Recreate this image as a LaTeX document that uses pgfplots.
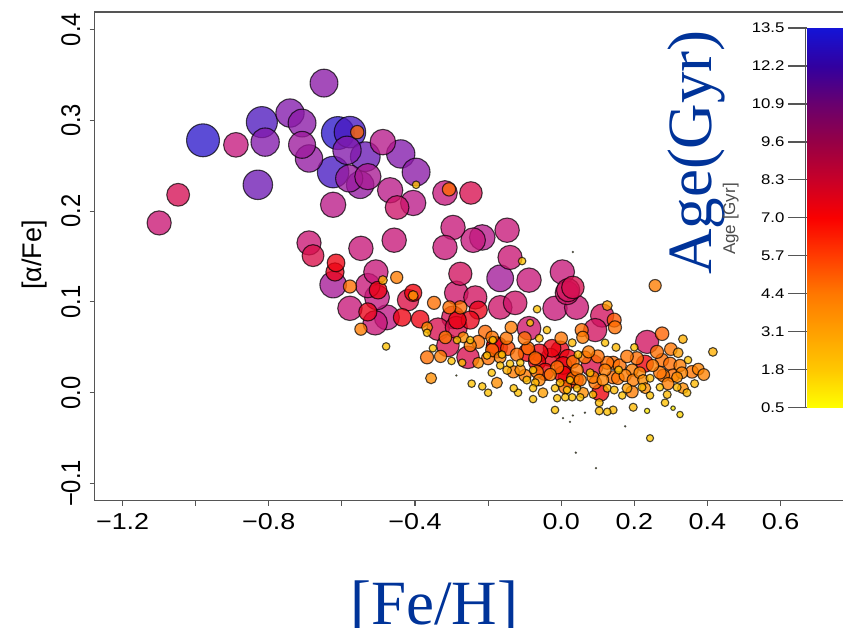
\documentclass[border=0pt]{standalone}
\usepackage{fontspec}
\setmainfont{Liberation Serif}
\newfontfamily\xtickfont{Liberation Sans}[FakeStretch=1.17]
\newfontfamily\ytickfont{Liberation Sans}[FakeStretch=0.88]
\newfontfamily\cbfont{Liberation Sans}[FakeStretch=1.2]
\newfontfamily\labfont{Liberation Sans}
\usepackage{pgfplots}
\pgfplotsset{compat=1.18}
\definecolor{slideblue}{RGB}{0,51,153}
\definecolor{axisgray}{RGB}{85,85,85}

% colour scale for the bubbles (positions are age x 10)
\pgfplotsset{colormap={bubblemap}{rgb255(5pt)=(255,255,0) rgb255(18pt)=(255,200,0) rgb255(31pt)=(255,155,0) rgb255(44pt)=(255,110,0) rgb255(54pt)=(255,50,0) rgb255(62pt)=(240,0,10) rgb255(72pt)=(225,10,50) rgb255(85pt)=(215,15,80) rgb255(95pt)=(195,25,130) rgb255(109pt)=(135,25,170) rgb255(122pt)=(80,25,190) rgb255(135pt)=(25,25,210)}}
% colour scale of the age bar
\pgfplotsset{colormap={barmap}{rgb255=(255,255,0) rgb255=(255,200,0) rgb255=(255,160,0) rgb255=(255,120,0) rgb255=(255,60,0) rgb255=(250,0,0) rgb255=(200,0,40) rgb255=(150,0,70) rgb255=(105,0,110) rgb255=(50,0,160) rgb255=(20,20,215)}}

% Stars: [Fe/H], [alpha/Fe], age in Gyr (age sets colour and bubble size)
\pgfplotstableread{
x y a
-0.980 0.278 13.0
-0.611 0.286 13.0
-0.578 0.287 12.4
-0.624 0.243 12.4
-0.819 0.298 12.2
-0.536 0.260 11.6
-0.830 0.229 11.5
-0.810 0.276 11.0
-0.742 0.308 11.0
-0.586 0.267 11.0
-0.439 0.263 11.0
-0.649 0.341 10.8
-0.709 0.297 10.8
-0.397 0.243 10.8
-0.690 0.258 10.6
-0.550 0.229 10.6
-0.580 0.236 10.5
-0.709 0.273 10.4
-0.167 0.126 10.3
-0.624 0.119 10.2
-0.529 0.238 10.1
-0.488 0.276 9.8
-0.216 0.171 9.8
-0.624 0.207 9.7
-0.468 0.223 9.7
-0.405 0.209 9.7
-0.477 0.083 9.6
-0.504 0.105 9.5
-0.241 0.168 9.4
-0.890 0.273 9.4
-0.318 0.220 9.4
-0.296 0.182 9.3
-0.318 0.160 9.3
-0.148 0.179 9.3
-0.548 0.159 9.3
-0.457 0.168 9.3
-0.529 0.118 9.3
-0.507 0.133 9.3
-0.578 0.093 9.3
-0.509 0.077 9.3
-0.088 0.124 9.3
0.003 0.133 9.3
-0.017 0.093 9.3
-1.100 0.187 9.2
-0.690 0.165 9.2
-0.140 0.149 9.2
0.042 0.094 9.2
-0.449 0.204 9.0
-0.287 0.110 9.0
-0.167 0.094 9.0
-0.126 0.099 9.0
-0.088 0.071 9.0
0.016 0.110 9.0
-0.276 0.131 8.8
0.019 0.113 8.8
-0.235 0.105 8.8
0.112 0.085 8.8
0.093 0.069 8.8
0.235 0.056 8.8
-1.048 0.218 8.6
-0.296 0.083 8.6
-0.247 0.220 8.5
-0.337 0.070 8.5
-0.310 0.052 8.5
-0.255 0.039 8.5
0.032 0.116 8.5
-0.287 0.072 8.3
0.085 0.030 8.3
-0.679 0.151 8.2
-0.419 0.102 8.0
-0.176 0.050 8.0
-0.227 0.091 6.6
-0.249 0.080 6.6
-0.003 0.047 6.6
-0.529 0.089 6.6
-0.619 0.133 6.6
-0.030 0.039 6.6
-0.616 0.143 6.4
-0.501 0.113 6.4
-0.435 0.083 6.4
-0.386 0.081 6.4
-0.284 0.080 6.4
-0.025 0.049 6.4
0.019 0.038 6.4
-0.060 0.044 6.4
0.016 0.017 6.4
0.005 0.030 6.4
-0.094 0.044 6.2
-0.405 0.110 6.2
-0.066 0.034 6.2
-0.044 0.023 6.2
0.005 0.020 6.2
0.229 0.032 6.2
0.107 0.000 6.2
-0.181 0.052 6.2
0.038 0.014 5.9
-0.146 0.049 5.0
0.145 0.080 4.8
0.276 0.065 4.6
-0.558 0.287 4.5
-0.307 0.224 4.5
-0.276 0.094 4.5
-0.208 0.067 4.5
-0.578 0.117 4.4
-0.348 0.099 4.4
-0.367 0.039 4.4
-0.306 0.094 4.4
-0.227 0.056 4.4
-0.200 0.038 4.4
-0.091 0.049 4.4
-0.121 0.042 4.4
0.011 0.006 4.4
0.147 0.072 4.4
0.056 0.069 4.4
0.207 0.038 4.4
0.276 0.036 4.4
0.298 0.032 4.4
0.306 0.019 4.4
0.142 0.017 4.4
0.142 0.033 4.4
-0.189 0.047 4.4
-0.071 0.038 4.4
-0.011 0.028 4.4
0.126 0.033 4.4
0.160 0.030 4.4
0.262 0.045 4.4
0.100 0.040 4.4
-0.100 0.060 4.4
0.032 0.016 4.2
0.279 0.019 4.2
0.358 0.023 4.2
0.093 0.011 4.2
0.032 0.034 4.2
0.065 0.039 4.2
0.043 0.025 4.2
-0.189 0.061 4.2
-0.317 0.061 4.2
0.155 0.016 4.2
0.270 0.022 4.2
-0.066 0.023 4.2
0.180 0.040 4.2
0.300 0.048 4.2
-0.150 0.060 4.2
0.000 0.060 4.2
-0.548 0.070 4.0
-0.450 0.127 4.0
0.257 0.118 4.0
0.059 0.061 4.0
0.194 0.025 4.0
0.194 0.001 4.0
-0.137 0.072 4.0
-0.099 0.019 4.0
-0.131 0.023 4.0
0.175 0.019 4.0
0.197 0.014 4.0
0.052 0.014 4.0
0.087 0.017 4.0
0.292 0.010 4.0
0.325 0.030 4.0
-0.249 0.052 4.0
0.250 0.030 4.0
0.120 0.025 4.0
0.075 0.045 4.0
-0.030 0.020 4.0
-0.330 0.040 4.0
-0.060 0.014 3.8
-0.167 0.039 3.8
0.114 0.014 3.8
0.375 0.026 3.8
0.215 0.022 3.8
0.330 0.022 3.8
0.390 0.020 3.8
-0.268 0.061 3.5
-0.367 0.072 3.5
-0.356 0.016 3.5
-0.227 0.033 3.5
-0.176 0.011 3.5
-0.112 0.025 3.5
0.224 0.014 3.5
0.333 0.005 3.5
0.317 0.017 3.5
0.230 0.005 3.5
0.060 0.000 3.5
-0.405 0.107 3.0
0.320 0.044 3.0
0.126 0.096 3.0
0.180 0.005 3.0
-0.050 0.000 3.0
-0.488 0.124 2.6
0.333 0.059 2.5
0.415 0.045 2.5
-0.148 0.025 2.5
0.344 0.000 2.2
0.104 -0.011 2.2
0.104 -0.020 2.2
0.142 -0.019 2.2
0.197 -0.016 2.2
-0.094 0.014 2.2
-0.071 0.011 2.2
-0.003 0.011 2.2
0.046 0.042 2.2
0.157 0.025 2.2
0.126 0.005 2.2
0.145 0.003 2.2
0.221 0.006 2.2
0.243 0.016 2.2
0.317 0.006 2.2
0.079 0.022 2.2
0.290 -0.002 2.2
0.150 0.050 2.2
-0.060 0.060 2.2
0.030 0.055 2.2
0.365 0.010 2.2
-0.107 0.145 2.0
-0.397 0.229 2.0
-0.479 0.051 2.0
-0.118 0.000 2.0
-0.077 -0.007 2.0
-0.216 0.007 2.0
-0.167 0.030 2.0
-0.351 0.049 2.0
-0.271 0.033 2.0
-0.190 0.022 2.0
-0.011 -0.006 2.0
-0.017 -0.019 2.0
0.030 -0.005 2.0
0.167 -0.003 2.0
0.243 -0.003 2.0
0.284 -0.011 2.0
0.126 -0.021 2.0
-0.066 0.092 2.0
-0.039 0.069 2.0
-0.367 0.066 2.0
-0.285 0.058 2.0
-0.187 0.058 2.0
-0.203 0.041 2.0
-0.249 0.058 2.0
-0.162 0.042 2.0
-0.140 0.032 2.0
-0.112 0.033 2.0
-0.077 0.025 2.0
-0.077 0.005 2.0
-0.017 0.005 2.0
0.043 0.005 2.0
0.016 0.003 2.0
0.024 0.014 2.0
0.270 0.006 2.0
0.347 0.036 2.0
0.011 -0.005 2.0
0.052 -0.005 2.0
0.087 -0.002 2.0
0.200 0.050 2.0
0.120 0.055 2.0
-0.130 0.005 2.0
-0.200 0.000 2.0
-0.245 0.010 2.0
-0.300 0.035 2.0
-0.085 0.077 1.8
0.243 -0.050 1.8
0.325 -0.024 1.5
0.235 -0.020 1.0
0.306 -0.017 0.9
0.032 0.155 0.3
0.175 -0.037 0.3
0.065 -0.022 0.3
-0.287 0.019 0.3
0.032 -0.025 0.3
0.024 -0.032 0.3
0.040 -0.066 0.3
0.095 -0.083 0.3
0.005 -0.028 0.3
}\stars

\begin{document}
\begin{tikzpicture}
\useasboundingbox (0,0) rectangle (843pt,627pt);
\clip (0,0) rectangle (843pt,627pt);
\begin{axis}[
  at={(94.6pt,126.3pt)}, anchor=south west,
  scale only axis, width=765.4pt, height=488.7pt,
  xmin=-1.2766, xmax=0.8175, ymin=-0.1189, ymax=0.4193,
  axis line style={draw=axisgray, line width=1.3pt},
  xtick={-1.2,-1.0,-0.8,-0.6,-0.4,-0.2,0,0.2,0.4,0.6},
  xticklabels={−1.2,{},−0.8,{},−0.4,{},0.0,0.2,0.4,0.6},
  ytick={-0.1,0,0.1,0.2,0.3,0.4},
  yticklabels={−0.1,0.0,0.1,0.2,0.3,0.4},
  xtick pos=bottom, ytick pos=left,
  tick align=outside, major tick length=5pt,
  tick style={draw=axisgray, line width=1.1pt},
  xticklabel style={font=\fontsize{23}{23}\xtickfont, anchor=north, inner sep=0pt, yshift=-7.7pt},
  yticklabel style={font=\fontsize{27}{27}\ytickfont, xshift=-9.6pt, rotate=90, anchor=base, inner sep=0pt},
  xlabel={[Fe/H]},
  xlabel style={at={(axis description cs:0.444,-0.2523)}, anchor=base, font=\fontsize{63}{63}\selectfont, text=slideblue, inner sep=0pt},
  ylabel={[α/Fe]},
  ylabel style={at={(axis description cs:-0.0700,0.503)}, anchor=base, font=\fontsize{27}{27}\labfont, inner sep=0pt},
  colormap name=bubblemap,
  point meta min=0.5, point meta max=13.5,
]
\addplot[scatter, only marks, mark=*, point meta=explicit,
  visualization depends on={1.15*\thisrow{a}+1.5*min(\thisrow{a},1)^2 \as \rad},
  scatter/use mapped color={draw=black, fill=mapped color},
  scatter/@pre marker code/.append style={/tikz/mark size=\rad},
  mark options={line width=1.1pt, fill opacity=0.78, draw opacity=0.7}]
  table[x=x, y=y, meta=a] {\stars};
\node[rotate=90, anchor=base, font=\fontsize{63}{63}\selectfont, text=slideblue, inner sep=0pt]
  at (axis description cs:0.8066,0.7125) {Age(Gyr)};
\node[rotate=90, anchor=base, font=\fontsize{17}{17}\labfont, text=black!70, inner sep=0pt]
  at (axis description cs:0.8367,0.5764) {Age [Gyr]};
\end{axis}
% age scale bar
\begin{axis}[
  at={(806.7pt,219.3pt)}, anchor=south west,
  scale only axis, width=60pt, height=379.7pt,
  xmin=0, xmax=1, ymin=0.5, ymax=13.5,
  clip=false,
  axis line style={draw=none},
  xtick=\empty, ytick pos=left,
  ytick={0.5,1.8,3.1,4.4,5.7,7.0,8.3,9.6,10.9,12.2,13.5},
  yticklabels={0.5,1.8,3.1,4.4,5.7,7.0,8.3,9.6,10.9,12.2,13.5},
  tick align=outside, major tick length=18pt,
  tick style={draw=axisgray, line width=1.2pt},
  yticklabel style={font=\fontsize{14}{14}\cbfont, anchor=east, inner sep=0pt, xshift=-4pt},
  colormap name=barmap,
  point meta min=0.5, point meta max=13.5,
]
\addplot[surf, shader=interp, mesh/rows=2, point meta=y]
  coordinates {(0,0.5) (1,0.5) (0,13.5) (1,13.5)};
% scale line and tick marks on the left of the bar
\draw[axisgray, line width=1.2pt] ([xshift=-1pt]axis cs:0,0.5) -- ([xshift=-1pt]axis cs:0,13.5);
\pgfplotsinvokeforeach{0.5,1.8,3.1,4.4,5.7,7.0,8.3,9.6,10.9,12.2,13.5}{
  \draw[axisgray, line width=1.2pt] ([xshift=-1pt]axis cs:0,#1) -- ++(-18pt,0pt);
}
\end{axis}
\end{tikzpicture}
\end{document}
